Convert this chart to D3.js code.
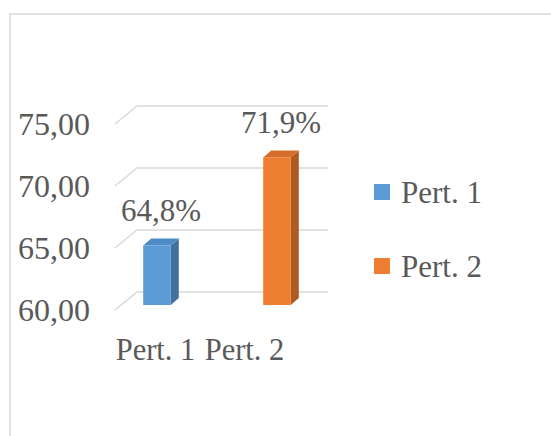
<!DOCTYPE html>
<html>
<head>
<meta charset="utf-8">
<script src="https://cdn.jsdelivr.net/npm/d3@7"></script>
<style>
  body { margin: 0; background: #fff; }
  text { font-family: "Liberation Serif", "Times New Roman", serif; fill: #595959; }
</style>
</head>
<body>
<script>
const categories = ['Pert. 1', 'Pert. 2'];
const values = [64.8, 71.9];
const valueLabels = ['64,8%', '71,9%'];
const yTicks = [60, 65, 70, 75];
const colors = ['#5B9BD5', '#ED7D31'];
const sideColors = ['#41719C', '#AE5A21'];
const topColors = ['#4F8CC6', '#D46E2A'];

const width = 551, height = 436;

const svg = d3.select('body').append('svg')
  .attr('width', width)
  .attr('height', height);

// chart frame (cut off at right and bottom)
svg.append('rect')
  .attr('x', 10).attr('y', 14)
  .attr('width', 600).attr('height', 500)
  .attr('fill', '#fff')
  .attr('stroke', '#d9d9d9')
  .attr('stroke-width', 1.5);

// bar plane scale
const y = d3.scaleLinear().domain([60, 75]).range([305, 119]);

const x = d3.scaleBand()
  .domain(categories)
  .range([97, 337])
  .paddingInner(0.77)
  .paddingOuter(0.385);

const xLabel = d3.scaleBand()
  .domain(categories)
  .range([111, 289]);

// 3d offsets
const wallFront = 5, wallBack = -13, wallLeft = 115, wallX = 137, wallRight = 328;
const dx = 8, dy = 7;

const grid = svg.append('g').attr('class', 'grid');
yTicks.forEach(t => {
  grid.append('path')
    .attr('d', `M${wallLeft},${y(t) + wallFront}L${wallX},${y(t) + wallBack}L${wallRight},${y(t) + wallBack}`)
    .attr('fill', 'none')
    .attr('stroke', '#d9d9d9')
    .attr('stroke-width', 1.5);
});

const yAxis = svg.append('g');
yAxis.selectAll('text')
  .data(yTicks)
  .enter()
  .append('text')
  .attr('x', 90)
  .attr('y', d => y(d) + wallFront)
  .attr('dy', '0.35em')
  .attr('text-anchor', 'end')
  .attr('font-size', 32)
  .text(d => d3.format('.2f')(d).replace('.', ','));

const bars = svg.append('g');
categories.forEach((c, i) => {
  const x0 = x(c), w = x.bandwidth(), yt = y(values[i]), yb = y(60);
  // side
  bars.append('path')
    .attr('d', `M${x0 + w},${yt}L${x0 + w + dx},${yt - dy}L${x0 + w + dx},${yb - dy}L${x0 + w},${yb}Z`)
    .attr('fill', sideColors[i]);
  // top
  bars.append('path')
    .attr('d', `M${x0},${yt}L${x0 + dx},${yt - dy}L${x0 + w + dx},${yt - dy}L${x0 + w},${yt}Z`)
    .attr('fill', topColors[i]);
  // front
  bars.append('rect')
    .attr('x', x0)
    .attr('y', yt)
    .attr('width', w)
    .attr('height', yb - yt)
    .attr('fill', colors[i]);
  // value label
  bars.append('text')
    .attr('x', x0 + (w + dx) / 2)
    .attr('y', yt - 24)
    .attr('text-anchor', 'middle')
    .attr('font-size', 31)
    .text(valueLabels[i]);
});

const xAxis = svg.append('g');
xAxis.selectAll('text')
  .data(categories)
  .enter()
  .append('text')
  .attr('x', d => xLabel(d) + xLabel.bandwidth() / 2)
  .attr('y', 360)
  .attr('text-anchor', 'middle')
  .attr('font-size', 30.5)
  .text(d => d);

const legend = svg.append('g');
categories.forEach((c, i) => {
  const ly = 203 + i * 74;
  legend.append('rect')
    .attr('x', 374)
    .attr('y', ly - 19)
    .attr('width', 16)
    .attr('height', 16)
    .attr('fill', colors[i]);
  legend.append('text')
    .attr('x', 401)
    .attr('y', ly)
    .attr('font-size', 31)
    .text(c);
});
</script>
</body>
</html>
